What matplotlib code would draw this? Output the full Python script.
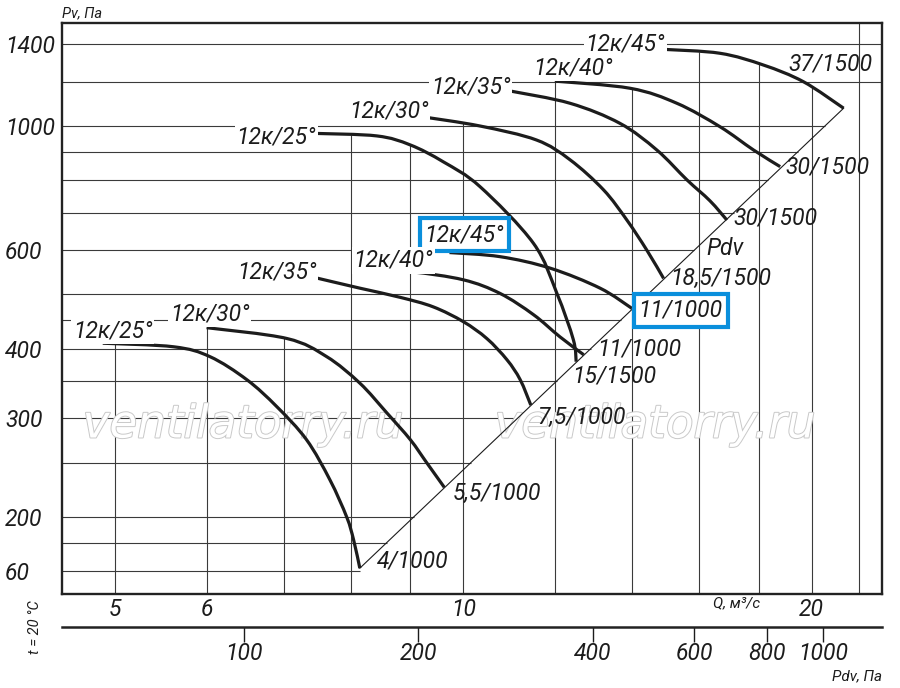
import numpy as np
import matplotlib
matplotlib.use('Agg')
import matplotlib.pyplot as plt
from matplotlib import patheffects
from matplotlib.path import Path
from matplotlib.patches import PathPatch
from matplotlib.ticker import NullLocator

plt.rcParams['font.family'] = ['Roboto', 'DejaVu Sans']
plt.rcParams['font.style'] = 'italic'

# fan curves, Q in m3/s, Pv in Pa
q_25_1000 = [4.88, 5.62, 6.04, 6.50, 6.90, 7.32, 7.67, 7.93, 8.04, 8.14]
pv_25_1000 = [409, 403, 387, 352, 315, 275, 233, 200, 182, 162]
q_30_1000 = [6.00, 7.04, 7.62, 8.14, 8.59, 9.00, 9.30, 9.63]
pv_30_1000 = [436, 417, 387, 347, 307, 275, 250, 226]
q_35_1000 = [7.41, 8.14, 8.82, 9.42, 10.00, 10.48, 10.91, 11.20, 11.44]
pv_35_1000 = [537, 513, 494, 475, 447, 417, 382, 352, 317]
q_40_1000 = [8.14, 9.00, 10.00, 10.76, 11.50, 12.12, 12.71]
pv_40_1000 = [555, 549, 531, 502, 460, 420, 390]
q_45_1000 = [9.73, 10.76, 11.89, 13.13, 13.99]
pv_45_1000 = [594, 584, 557, 513, 472]

q_25_1500 = [7.45, 8.42, 9.00, 9.61, 10.34, 11.50, 12.05, 12.45, 12.52]
pv_25_1500 = [970, 960, 925, 863, 779, 617, 502, 415, 379]
q_30_1500 = [9.21, 10.34, 11.57, 12.37, 13.22, 13.85, 14.41, 14.90]
pv_30_1500 = [1039, 1000, 944, 870, 769, 679, 600, 534]
q_35_1500 = [10.98, 12.37, 13.66, 14.70, 15.61, 16.34, 16.90]
pv_35_1500 = [1155, 1098, 1011, 906, 801, 735, 679]
q_40_1500 = [12.00, 13.94, 15.30, 16.67, 17.82, 18.79]
pv_40_1500 = [1203, 1168, 1098, 997, 906, 846]
q_45_1500 = [14.90, 16.67, 18.18, 19.68, 21.32]
pv_45_1500 = [1371, 1349, 1285, 1200, 1076]

# dynamic pressure line
pdv_q = [8.14, 21.32]
pdv_pv = [162, 1076]
pdv_k = 2.39  # Pdv = k * Q^2 for the lower scale

grid_q = [5, 6, 7, 8, 9, 10, 12, 14, 16, 18, 20, 22]
grid_pv = [1400, 1200, 1000, 900, 800, 700, 600, 500, 450, 400, 350, 300, 250, 200, 180, 160]

q_ticks = [5, 6, 10, 20]
q_tick_labels = ['5', '6', '10', '20']
pv_ticks = [1400, 1000, 600, 400, 300, 200, 160]
pv_tick_labels = ['1400', '1000', '600', '400', '300', '200', '60']
pdv_ticks = [100, 200, 400, 600, 800, 1000]
pdv_tick_labels = ['100', '200', '400', '600', '800', '1000']

curve_names = ['12к/25°', '12к/30°', '12к/35°', '12к/40°', '12к/45°'] * 2
end_labels = ['4/1000', '5,5/1000', '7,5/1000', '11/1000', '11/1000',
              '15/1500', '18,5/1500', '30/1500', '30/1500', '37/1500']
curves_q = [q_25_1000, q_30_1000, q_35_1000, q_40_1000, q_45_1000,
            q_25_1500, q_30_1500, q_35_1500, q_40_1500, q_45_1500]
curves_pv = [pv_25_1000, pv_30_1000, pv_35_1000, pv_40_1000, pv_45_1000,
             pv_25_1500, pv_30_1500, pv_35_1500, pv_40_1500, pv_45_1500]

# label offsets in points (name from curve start, end label from curve end)
name_off = [(7, 9), (2.4, 10.2), (-25.8, 3.5), (24.1, 6.3), (10.7, 12.7),
            (-28.1, -2.3), (-23.9, 4.1), (-28.4, 3.2), (13.2, 9.7), (-27.7, 4.2)]
end_off = [(12.2, 5.3), (5.8, -4.1), (4.8, -8.6), (9.6, 4.3), (4.8, -1.2),
           (-3.1, -10.3), (4.8, 0.2), (4.5, 1.4), (3.6, 0), (-39.8, 31.9)]
boxed = 4

BLUE = '#0a8fdc'
INK = '#1c1c1c'
FS = 16.5


def smooth_path(qs, ps):
    # catmull-rom through the read points, done in log space so it
    # maps to straight display space on the log-log axes
    pts = np.column_stack([np.log10(qs), np.log10(ps)])
    ext = np.vstack([pts[0], pts, pts[-1]])
    verts = [pts[0]]
    codes = [Path.MOVETO]
    for i in range(1, len(ext) - 2):
        c1 = ext[i] + (ext[i + 1] - ext[i - 1]) / 6
        c2 = ext[i + 1] - (ext[i + 2] - ext[i]) / 6
        verts += [c1, c2, ext[i + 1]]
        codes += [Path.CURVE4] * 3
    return Path(10 ** np.array(verts), codes)


fig = plt.figure(figsize=(9, 6.88), dpi=100)
ax = fig.add_axes([0.0689, 0.1362, 0.9108, 0.8299])
ax.set_xscale('log')
ax.set_yscale('log')
xmin, xmax = 4.5, 23.0
ymin, ymax = 145.5, 1526
ax.set_xlim(xmin, xmax)
ax.set_ylim(ymin, ymax)

# vertical grid runs up to the highest curve above it
for gq in grid_q:
    top = ymax
    hits = [np.exp(np.interp(np.log(gq), np.log(cq), np.log(cp)))
            for cq, cp in zip(curves_q, curves_pv) if cq[0] - 1e-6 <= gq <= cq[-1]]
    if hits:
        top = max(hits)
    ax.vlines(gq, ymin, top, color='#3a3a3a', lw=0.8, zorder=1)

# horizontal grid stops at the Pdv line
for gp in grid_pv:
    if gp > pdv_pv[-1]:
        right = xmax
    else:
        right = np.exp(np.interp(np.log(gp), np.log(pdv_pv), np.log(pdv_q)))
    ax.hlines(gp, xmin, right, color='#3a3a3a', lw=0.8, zorder=1)

ax.plot(pdv_q, pdv_pv, color=INK, lw=0.8, zorder=2)

for i, (cq, cp) in enumerate(zip(curves_q, curves_pv)):
    ax.add_patch(PathPatch(smooth_path(cq, cp), fill=False, ec=INK, lw=2.3,
                           capstyle='butt', joinstyle='round', zorder=3))
    bb = dict(boxstyle='square,pad=0.08', fc='white', ec='none')
    zo = 4
    if i == boxed:
        bb = dict(boxstyle='square,pad=0.22', fc='white', ec=BLUE, lw=3)
        zo = 3.5
    ax.annotate(curve_names[i], (cq[0], cp[0]), xytext=name_off[i],
                textcoords='offset points', ha='center', va='center',
                fontsize=FS, color=INK, bbox=bb, zorder=zo)
    bb = None
    if i == boxed:
        bb = dict(boxstyle='square,pad=0.22', fc='white', ec=BLUE, lw=3)
    ax.annotate(end_labels[i], (cq[-1], cp[-1]), xytext=end_off[i],
                textcoords='offset points', ha='left', va='center',
                fontsize=FS, color=INK, bbox=bb, zorder=zo)

ax.text(16.85, 603, 'Pdv', fontsize=FS, color=INK, ha='center', va='center')

# watermark
for xf in (0.2208, 0.7234):
    ax.text(xf, 0.2965, 'ventilatorry.ru', transform=ax.transAxes,
            family='DejaVu Sans', style='oblique', fontsize=32.5,
            color='white', ha='center', va='center', zorder=1.5,
            path_effects=[patheffects.withStroke(linewidth=1.4, foreground='#c9c9c9')])

ax.set_xticks(q_ticks, q_tick_labels)
ax.set_yticks(pv_ticks, pv_tick_labels)
ax.xaxis.set_minor_locator(NullLocator())
ax.yaxis.set_minor_locator(NullLocator())
ax.tick_params(axis='both', length=0, labelsize=FS, colors=INK)
ax.tick_params(axis='x', pad=3)
# y labels are flush left at the figure edge
ax.tick_params(axis='y', pad=41)
for lab in ax.get_yticklabels():
    lab.set_horizontalalignment('left')
for sp in ax.spines.values():
    sp.set_linewidth(1.7)
    sp.set_color('#222222')

sec = ax.secondary_xaxis(-0.0567, functions=(lambda q: pdv_k * np.asarray(q) ** 2,
                                             lambda p: np.sqrt(np.asarray(p) / pdv_k)))
sec.set_xticks(pdv_ticks, pdv_tick_labels)
sec.xaxis.set_minor_locator(NullLocator())
sec.tick_params(direction='out', length=11, width=1, pad=0, labelsize=FS, colors=INK)
sec.spines['bottom'].set_linewidth(1.8)
sec.spines['bottom'].set_color('#222222')

fig.text(62 / 900, 1 - 13 / 688, 'Pv, Па', fontsize=10.5, color=INK, ha='left', va='center')
fig.text(35 / 900, 1 - 627 / 688, 't = 20 °C', fontsize=10.5, color=INK,
         rotation=90, ha='center', va='center')
fig.text(737 / 900, 1 - 603 / 688, 'Q, м³/с', fontsize=11, color=INK, ha='center', va='center')
fig.text(882 / 900, 1 - 676 / 688, 'Pdv, Па', fontsize=11, color=INK, ha='right', va='center')

fig.savefig('out.png', dpi=100)
